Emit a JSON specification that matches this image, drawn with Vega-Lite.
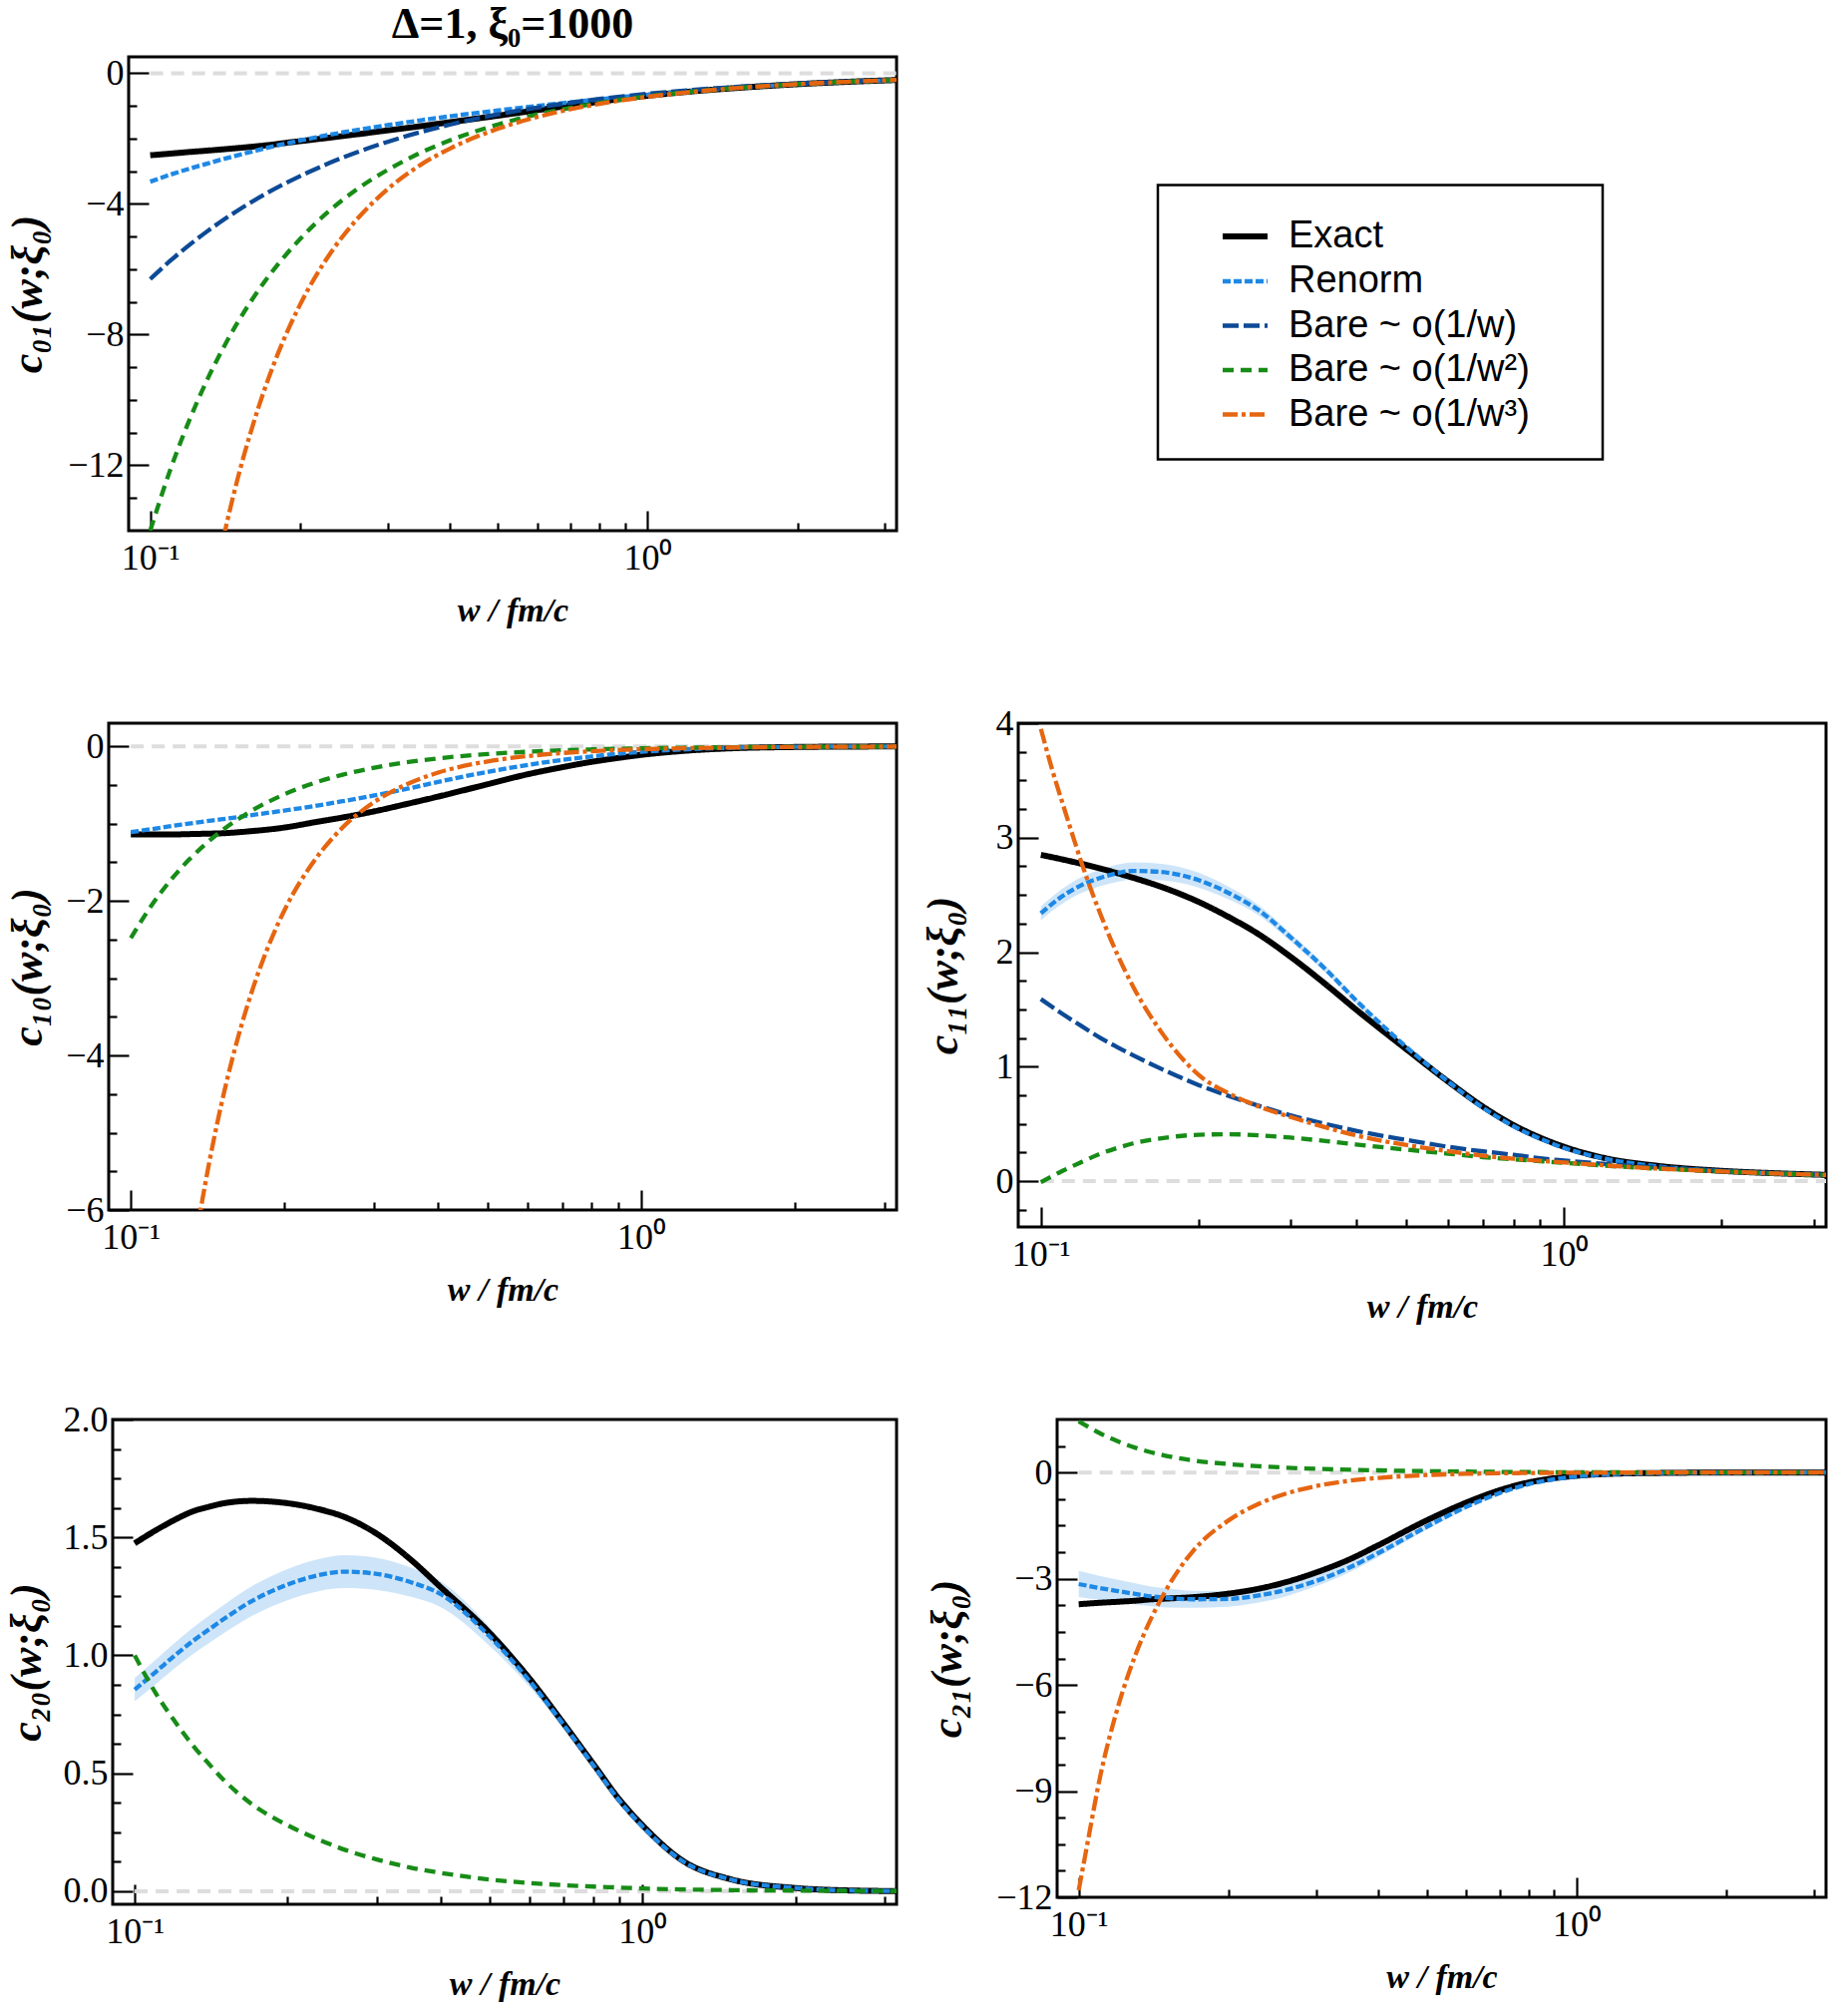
{
  "$schema": "https://vega.github.io/schema/vega-lite/v6.json",
  "background": "white",
  "padding": {"left": -16, "top": 1, "right": 5, "bottom": 5},
  "config": {
    "font": "Liberation Serif",
    "view": {"stroke": "black", "strokeWidth": 3},
    "axis": {
      "grid": false, "domain": false,
      "labelFont": "Liberation Serif", "labelFontSize": 36, "labelColor": "black",
      "tickColor": "black", "tickWidth": 2.2, "tickSize": -8,
      "titleFont": "Liberation Serif", "titleFontSize": 44, "titleFontWeight": "bold", "titleFontStyle": "italic", "titleColor": "black",
      "labelOverlap": false, "labelFlush": false, "labelBound": false
    },
    "axisX": {"labelPadding": 18, "titlePadding": 18, "titleFontSize": 34},
    "axisY": {"labelPadding": 13},
    "legend": {
      "orient": "none", "legendX": 1177, "legendY": 128.5,
      "padding": 26, "strokeColor": "black", "strokeWidth": 2.5, "fillColor": "white",
      "symbolType": "stroke", "symbolSize": 2025,
      "labelFont": "Liberation Sans", "labelFontSize": 38, "labelColor": "black",
      "labelLimit": 0, "rowPadding": 0.5, "symbolOffset": 36, "labelOffset": 18,
      "titleOrient": "right", "titleFont": "DejaVu Sans", "titleFontSize": 30, "titlePadding": 0, "titleColor": "white"
    }
  },
  "datasets": {
    "curves": [
      {"p":"c01","s":"Exact","x":0.1,"y":-2.51},{"p":"c01","s":"Exact","x":0.11,"y":-2.46},{"p":"c01","s":"Exact","x":0.12,"y":-2.41},{"p":"c01","s":"Exact","x":0.13,"y":-2.37},{"p":"c01","s":"Exact","x":0.14,"y":-2.33},{"p":"c01","s":"Exact","x":0.15,"y":-2.29},{"p":"c01","s":"Exact","x":0.17,"y":-2.21},{"p":"c01","s":"Exact","x":0.2,"y":-2.08},{"p":"c01","s":"Exact","x":0.23,"y":-1.97},{"p":"c01","s":"Exact","x":0.26,"y":-1.87},{"p":"c01","s":"Exact","x":0.3,"y":-1.75},{"p":"c01","s":"Exact","x":0.35,"y":-1.62},{"p":"c01","s":"Exact","x":0.4,"y":-1.5},{"p":"c01","s":"Exact","x":0.5,"y":-1.3},{"p":"c01","s":"Exact","x":0.6,"y":-1.13},{"p":"c01","s":"Exact","x":0.7,"y":-0.99},{"p":"c01","s":"Exact","x":0.8,"y":-0.87},{"p":"c01","s":"Exact","x":0.9,"y":-0.77},{"p":"c01","s":"Exact","x":1,"y":-0.69},{"p":"c01","s":"Exact","x":1.2,"y":-0.57},{"p":"c01","s":"Exact","x":1.5,"y":-0.455},{"p":"c01","s":"Exact","x":2,"y":-0.336},{"p":"c01","s":"Exact","x":2.5,"y":-0.266},{"p":"c01","s":"Exact","x":3.165,"y":-0.208},
      {"p":"c01","s":"Renorm","x":0.1,"y":-3.32},{"p":"c01","s":"Renorm","x":0.11,"y":-3.1},{"p":"c01","s":"Renorm","x":0.12,"y":-2.92},{"p":"c01","s":"Renorm","x":0.13,"y":-2.77},{"p":"c01","s":"Renorm","x":0.14,"y":-2.63},{"p":"c01","s":"Renorm","x":0.15,"y":-2.51},{"p":"c01","s":"Renorm","x":0.17,"y":-2.3},{"p":"c01","s":"Renorm","x":0.2,"y":-2.06},{"p":"c01","s":"Renorm","x":0.23,"y":-1.88},{"p":"c01","s":"Renorm","x":0.26,"y":-1.74},{"p":"c01","s":"Renorm","x":0.3,"y":-1.59},{"p":"c01","s":"Renorm","x":0.35,"y":-1.44},{"p":"c01","s":"Renorm","x":0.4,"y":-1.32},{"p":"c01","s":"Renorm","x":0.5,"y":-1.14},{"p":"c01","s":"Renorm","x":0.6,"y":-1},{"p":"c01","s":"Renorm","x":0.7,"y":-0.89},{"p":"c01","s":"Renorm","x":0.8,"y":-0.8},{"p":"c01","s":"Renorm","x":0.9,"y":-0.72},{"p":"c01","s":"Renorm","x":1,"y":-0.66},{"p":"c01","s":"Renorm","x":1.2,"y":-0.555},{"p":"c01","s":"Renorm","x":1.5,"y":-0.45},{"p":"c01","s":"Renorm","x":2,"y":-0.335},{"p":"c01","s":"Renorm","x":2.5,"y":-0.266},{"p":"c01","s":"Renorm","x":3.165,"y":-0.208},
      {"p":"c01","s":"Bare ~ o(1/w)","x":0.1,"y":-6.3},{"p":"c01","s":"Bare ~ o(1/w)","x":0.11,"y":-5.727},{"p":"c01","s":"Bare ~ o(1/w)","x":0.12,"y":-5.25},{"p":"c01","s":"Bare ~ o(1/w)","x":0.13,"y":-4.846},{"p":"c01","s":"Bare ~ o(1/w)","x":0.14,"y":-4.5},{"p":"c01","s":"Bare ~ o(1/w)","x":0.15,"y":-4.2},{"p":"c01","s":"Bare ~ o(1/w)","x":0.17,"y":-3.706},{"p":"c01","s":"Bare ~ o(1/w)","x":0.2,"y":-3.15},{"p":"c01","s":"Bare ~ o(1/w)","x":0.23,"y":-2.739},{"p":"c01","s":"Bare ~ o(1/w)","x":0.26,"y":-2.423},{"p":"c01","s":"Bare ~ o(1/w)","x":0.3,"y":-2.1},{"p":"c01","s":"Bare ~ o(1/w)","x":0.35,"y":-1.8},{"p":"c01","s":"Bare ~ o(1/w)","x":0.4,"y":-1.575},{"p":"c01","s":"Bare ~ o(1/w)","x":0.5,"y":-1.26},{"p":"c01","s":"Bare ~ o(1/w)","x":0.6,"y":-1.05},{"p":"c01","s":"Bare ~ o(1/w)","x":0.7,"y":-0.9},{"p":"c01","s":"Bare ~ o(1/w)","x":0.8,"y":-0.788},{"p":"c01","s":"Bare ~ o(1/w)","x":0.9,"y":-0.7},{"p":"c01","s":"Bare ~ o(1/w)","x":1,"y":-0.63},{"p":"c01","s":"Bare ~ o(1/w)","x":1.2,"y":-0.525},{"p":"c01","s":"Bare ~ o(1/w)","x":1.5,"y":-0.42},{"p":"c01","s":"Bare ~ o(1/w)","x":2,"y":-0.315},{"p":"c01","s":"Bare ~ o(1/w)","x":2.5,"y":-0.252},{"p":"c01","s":"Bare ~ o(1/w)","x":3.165,"y":-0.199},
      {"p":"c01","s":"Bare ~ o(1/w²)","x":0.1,"y":-14},{"p":"c01","s":"Bare ~ o(1/w²)","x":0.11,"y":-12.09},{"p":"c01","s":"Bare ~ o(1/w²)","x":0.12,"y":-10.6},{"p":"c01","s":"Bare ~ o(1/w²)","x":0.13,"y":-9.4},{"p":"c01","s":"Bare ~ o(1/w²)","x":0.14,"y":-8.43},{"p":"c01","s":"Bare ~ o(1/w²)","x":0.15,"y":-7.62},{"p":"c01","s":"Bare ~ o(1/w²)","x":0.17,"y":-6.37},{"p":"c01","s":"Bare ~ o(1/w²)","x":0.2,"y":-5.08},{"p":"c01","s":"Bare ~ o(1/w²)","x":0.23,"y":-4.19},{"p":"c01","s":"Bare ~ o(1/w²)","x":0.26,"y":-3.56},{"p":"c01","s":"Bare ~ o(1/w²)","x":0.3,"y":-2.96},{"p":"c01","s":"Bare ~ o(1/w²)","x":0.35,"y":-2.43},{"p":"c01","s":"Bare ~ o(1/w²)","x":0.4,"y":-2.06},{"p":"c01","s":"Bare ~ o(1/w²)","x":0.5,"y":-1.57},{"p":"c01","s":"Bare ~ o(1/w²)","x":0.6,"y":-1.26},{"p":"c01","s":"Bare ~ o(1/w²)","x":0.7,"y":-1.06},{"p":"c01","s":"Bare ~ o(1/w²)","x":0.8,"y":-0.91},{"p":"c01","s":"Bare ~ o(1/w²)","x":0.9,"y":-0.795},{"p":"c01","s":"Bare ~ o(1/w²)","x":1,"y":-0.707},{"p":"c01","s":"Bare ~ o(1/w²)","x":1.2,"y":-0.579},{"p":"c01","s":"Bare ~ o(1/w²)","x":1.5,"y":-0.454},{"p":"c01","s":"Bare ~ o(1/w²)","x":2,"y":-0.334},{"p":"c01","s":"Bare ~ o(1/w²)","x":2.5,"y":-0.264},{"p":"c01","s":"Bare ~ o(1/w²)","x":3.165,"y":-0.207},
      {"p":"c01","s":"Bare ~ o(1/w³)","x":0.12,"y":-19.92},{"p":"c01","s":"Bare ~ o(1/w³)","x":0.13,"y":-16.73},{"p":"c01","s":"Bare ~ o(1/w³)","x":0.135,"y":-15.44},{"p":"c01","s":"Bare ~ o(1/w³)","x":0.14,"y":-14.3},{"p":"c01","s":"Bare ~ o(1/w³)","x":0.145,"y":-13.29},{"p":"c01","s":"Bare ~ o(1/w³)","x":0.15,"y":-12.39},{"p":"c01","s":"Bare ~ o(1/w³)","x":0.16,"y":-10.88},{"p":"c01","s":"Bare ~ o(1/w³)","x":0.17,"y":-9.65},{"p":"c01","s":"Bare ~ o(1/w³)","x":0.18,"y":-8.64},{"p":"c01","s":"Bare ~ o(1/w³)","x":0.2,"y":-7.09},{"p":"c01","s":"Bare ~ o(1/w³)","x":0.23,"y":-5.52},{"p":"c01","s":"Bare ~ o(1/w³)","x":0.26,"y":-4.48},{"p":"c01","s":"Bare ~ o(1/w³)","x":0.3,"y":-3.55},{"p":"c01","s":"Bare ~ o(1/w³)","x":0.35,"y":-2.8},{"p":"c01","s":"Bare ~ o(1/w³)","x":0.4,"y":-2.31},{"p":"c01","s":"Bare ~ o(1/w³)","x":0.5,"y":-1.7},{"p":"c01","s":"Bare ~ o(1/w³)","x":0.6,"y":-1.34},{"p":"c01","s":"Bare ~ o(1/w³)","x":0.7,"y":-1.1},{"p":"c01","s":"Bare ~ o(1/w³)","x":0.8,"y":-0.94},{"p":"c01","s":"Bare ~ o(1/w³)","x":0.9,"y":-0.817},{"p":"c01","s":"Bare ~ o(1/w³)","x":1,"y":-0.723},{"p":"c01","s":"Bare ~ o(1/w³)","x":1.2,"y":-0.588},{"p":"c01","s":"Bare ~ o(1/w³)","x":1.5,"y":-0.459},{"p":"c01","s":"Bare ~ o(1/w³)","x":2,"y":-0.336},{"p":"c01","s":"Bare ~ o(1/w³)","x":2.5,"y":-0.265},{"p":"c01","s":"Bare ~ o(1/w³)","x":3.165,"y":-0.2075},

      {"p":"c10","s":"Exact","x":0.1,"y":-1.14},{"p":"c10","s":"Exact","x":0.11,"y":-1.14},{"p":"c10","s":"Exact","x":0.12,"y":-1.14},{"p":"c10","s":"Exact","x":0.13,"y":-1.135},{"p":"c10","s":"Exact","x":0.14,"y":-1.13},{"p":"c10","s":"Exact","x":0.15,"y":-1.125},{"p":"c10","s":"Exact","x":0.17,"y":-1.1},{"p":"c10","s":"Exact","x":0.2,"y":-1.05},{"p":"c10","s":"Exact","x":0.23,"y":-0.98},{"p":"c10","s":"Exact","x":0.26,"y":-0.92},{"p":"c10","s":"Exact","x":0.3,"y":-0.84},{"p":"c10","s":"Exact","x":0.35,"y":-0.74},{"p":"c10","s":"Exact","x":0.4,"y":-0.65},{"p":"c10","s":"Exact","x":0.5,"y":-0.49},{"p":"c10","s":"Exact","x":0.6,"y":-0.36},{"p":"c10","s":"Exact","x":0.7,"y":-0.27},{"p":"c10","s":"Exact","x":0.8,"y":-0.2},{"p":"c10","s":"Exact","x":0.9,"y":-0.15},{"p":"c10","s":"Exact","x":1,"y":-0.11},{"p":"c10","s":"Exact","x":1.2,"y":-0.06},{"p":"c10","s":"Exact","x":1.5,"y":-0.025},{"p":"c10","s":"Exact","x":2,"y":-0.008},{"p":"c10","s":"Exact","x":2.5,"y":-0.003},{"p":"c10","s":"Exact","x":3.165,"y":-0.001},
      {"p":"c10","s":"Renorm","x":0.1,"y":-1.11},{"p":"c10","s":"Renorm","x":0.11,"y":-1.07},{"p":"c10","s":"Renorm","x":0.12,"y":-1.03},{"p":"c10","s":"Renorm","x":0.13,"y":-1},{"p":"c10","s":"Renorm","x":0.14,"y":-0.97},{"p":"c10","s":"Renorm","x":0.15,"y":-0.945},{"p":"c10","s":"Renorm","x":0.17,"y":-0.895},{"p":"c10","s":"Renorm","x":0.2,"y":-0.83},{"p":"c10","s":"Renorm","x":0.23,"y":-0.77},{"p":"c10","s":"Renorm","x":0.26,"y":-0.71},{"p":"c10","s":"Renorm","x":0.3,"y":-0.635},{"p":"c10","s":"Renorm","x":0.35,"y":-0.545},{"p":"c10","s":"Renorm","x":0.4,"y":-0.46},{"p":"c10","s":"Renorm","x":0.5,"y":-0.33},{"p":"c10","s":"Renorm","x":0.6,"y":-0.24},{"p":"c10","s":"Renorm","x":0.7,"y":-0.175},{"p":"c10","s":"Renorm","x":0.8,"y":-0.13},{"p":"c10","s":"Renorm","x":0.9,"y":-0.095},{"p":"c10","s":"Renorm","x":1,"y":-0.07},{"p":"c10","s":"Renorm","x":1.2,"y":-0.04},{"p":"c10","s":"Renorm","x":1.5,"y":-0.017},{"p":"c10","s":"Renorm","x":2,"y":-0.006},{"p":"c10","s":"Renorm","x":2.5,"y":-0.002},{"p":"c10","s":"Renorm","x":3.165,"y":-0.001},
      {"p":"c10","s":"Bare ~ o(1/w²)","x":0.1,"y":-2.48},{"p":"c10","s":"Bare ~ o(1/w²)","x":0.11,"y":-2.05},{"p":"c10","s":"Bare ~ o(1/w²)","x":0.12,"y":-1.722},{"p":"c10","s":"Bare ~ o(1/w²)","x":0.13,"y":-1.467},{"p":"c10","s":"Bare ~ o(1/w²)","x":0.14,"y":-1.265},{"p":"c10","s":"Bare ~ o(1/w²)","x":0.15,"y":-1.102},{"p":"c10","s":"Bare ~ o(1/w²)","x":0.17,"y":-0.858},{"p":"c10","s":"Bare ~ o(1/w²)","x":0.2,"y":-0.62},{"p":"c10","s":"Bare ~ o(1/w²)","x":0.23,"y":-0.469},{"p":"c10","s":"Bare ~ o(1/w²)","x":0.26,"y":-0.367},{"p":"c10","s":"Bare ~ o(1/w²)","x":0.3,"y":-0.276},{"p":"c10","s":"Bare ~ o(1/w²)","x":0.35,"y":-0.202},{"p":"c10","s":"Bare ~ o(1/w²)","x":0.4,"y":-0.155},{"p":"c10","s":"Bare ~ o(1/w²)","x":0.5,"y":-0.099},{"p":"c10","s":"Bare ~ o(1/w²)","x":0.6,"y":-0.069},{"p":"c10","s":"Bare ~ o(1/w²)","x":0.7,"y":-0.0506},{"p":"c10","s":"Bare ~ o(1/w²)","x":0.8,"y":-0.0388},{"p":"c10","s":"Bare ~ o(1/w²)","x":0.9,"y":-0.0306},{"p":"c10","s":"Bare ~ o(1/w²)","x":1,"y":-0.0248},{"p":"c10","s":"Bare ~ o(1/w²)","x":1.2,"y":-0.0172},{"p":"c10","s":"Bare ~ o(1/w²)","x":1.5,"y":-0.011},{"p":"c10","s":"Bare ~ o(1/w²)","x":2,"y":-0.0062},{"p":"c10","s":"Bare ~ o(1/w²)","x":2.5,"y":-0.004},{"p":"c10","s":"Bare ~ o(1/w²)","x":3.165,"y":-0.0025},
      {"p":"c10","s":"Bare ~ o(1/w³)","x":0.12,"y":-8.68},{"p":"c10","s":"Bare ~ o(1/w³)","x":0.13,"y":-6.94},{"p":"c10","s":"Bare ~ o(1/w³)","x":0.135,"y":-6.25},{"p":"c10","s":"Bare ~ o(1/w³)","x":0.14,"y":-5.65},{"p":"c10","s":"Bare ~ o(1/w³)","x":0.15,"y":-4.67},{"p":"c10","s":"Bare ~ o(1/w³)","x":0.16,"y":-3.91},{"p":"c10","s":"Bare ~ o(1/w³)","x":0.17,"y":-3.31},{"p":"c10","s":"Bare ~ o(1/w³)","x":0.18,"y":-2.83},{"p":"c10","s":"Bare ~ o(1/w³)","x":0.2,"y":-2.12},{"p":"c10","s":"Bare ~ o(1/w³)","x":0.23,"y":-1.46},{"p":"c10","s":"Bare ~ o(1/w³)","x":0.26,"y":-1.05},{"p":"c10","s":"Bare ~ o(1/w³)","x":0.3,"y":-0.72},{"p":"c10","s":"Bare ~ o(1/w³)","x":0.35,"y":-0.48},{"p":"c10","s":"Bare ~ o(1/w³)","x":0.4,"y":-0.34},{"p":"c10","s":"Bare ~ o(1/w³)","x":0.5,"y":-0.195},{"p":"c10","s":"Bare ~ o(1/w³)","x":0.6,"y":-0.125},{"p":"c10","s":"Bare ~ o(1/w³)","x":0.7,"y":-0.086},{"p":"c10","s":"Bare ~ o(1/w³)","x":0.8,"y":-0.062},{"p":"c10","s":"Bare ~ o(1/w³)","x":0.9,"y":-0.047},{"p":"c10","s":"Bare ~ o(1/w³)","x":1,"y":-0.037},{"p":"c10","s":"Bare ~ o(1/w³)","x":1.2,"y":-0.024},{"p":"c10","s":"Bare ~ o(1/w³)","x":1.5,"y":-0.0146},{"p":"c10","s":"Bare ~ o(1/w³)","x":2,"y":-0.0077},{"p":"c10","s":"Bare ~ o(1/w³)","x":2.5,"y":-0.0048},{"p":"c10","s":"Bare ~ o(1/w³)","x":3.165,"y":-0.0029},

      {"p":"c11","s":"Exact","x":0.1,"y":2.85},{"p":"c11","s":"Exact","x":0.11,"y":2.81},{"p":"c11","s":"Exact","x":0.12,"y":2.77},{"p":"c11","s":"Exact","x":0.13,"y":2.73},{"p":"c11","s":"Exact","x":0.14,"y":2.69},{"p":"c11","s":"Exact","x":0.15,"y":2.65},{"p":"c11","s":"Exact","x":0.17,"y":2.57},{"p":"c11","s":"Exact","x":0.2,"y":2.44},{"p":"c11","s":"Exact","x":0.23,"y":2.3},{"p":"c11","s":"Exact","x":0.26,"y":2.16},{"p":"c11","s":"Exact","x":0.3,"y":1.96},{"p":"c11","s":"Exact","x":0.35,"y":1.72},{"p":"c11","s":"Exact","x":0.4,"y":1.5},{"p":"c11","s":"Exact","x":0.5,"y":1.15},{"p":"c11","s":"Exact","x":0.6,"y":0.87},{"p":"c11","s":"Exact","x":0.7,"y":0.65},{"p":"c11","s":"Exact","x":0.8,"y":0.49},{"p":"c11","s":"Exact","x":0.9,"y":0.38},{"p":"c11","s":"Exact","x":1,"y":0.3},{"p":"c11","s":"Exact","x":1.2,"y":0.2},{"p":"c11","s":"Exact","x":1.5,"y":0.135},{"p":"c11","s":"Exact","x":2,"y":0.09},{"p":"c11","s":"Exact","x":2.5,"y":0.07},{"p":"c11","s":"Exact","x":3.165,"y":0.055},
      {"p":"c11","s":"Renorm","x":0.1,"y":2.34},{"p":"c11","s":"Renorm","x":0.11,"y":2.49},{"p":"c11","s":"Renorm","x":0.12,"y":2.59},{"p":"c11","s":"Renorm","x":0.13,"y":2.65},{"p":"c11","s":"Renorm","x":0.14,"y":2.69},{"p":"c11","s":"Renorm","x":0.15,"y":2.71},{"p":"c11","s":"Renorm","x":0.17,"y":2.7},{"p":"c11","s":"Renorm","x":0.2,"y":2.63},{"p":"c11","s":"Renorm","x":0.23,"y":2.51},{"p":"c11","s":"Renorm","x":0.26,"y":2.37},{"p":"c11","s":"Renorm","x":0.3,"y":2.13},{"p":"c11","s":"Renorm","x":0.35,"y":1.85},{"p":"c11","s":"Renorm","x":0.4,"y":1.58},{"p":"c11","s":"Renorm","x":0.5,"y":1.17},{"p":"c11","s":"Renorm","x":0.6,"y":0.87},{"p":"c11","s":"Renorm","x":0.7,"y":0.64},{"p":"c11","s":"Renorm","x":0.8,"y":0.48},{"p":"c11","s":"Renorm","x":0.9,"y":0.37},{"p":"c11","s":"Renorm","x":1,"y":0.29},{"p":"c11","s":"Renorm","x":1.2,"y":0.195},{"p":"c11","s":"Renorm","x":1.5,"y":0.13},{"p":"c11","s":"Renorm","x":2,"y":0.088},{"p":"c11","s":"Renorm","x":2.5,"y":0.068},{"p":"c11","s":"Renorm","x":3.165,"y":0.053},
      {"p":"c11","s":"Bare ~ o(1/w)","x":0.1,"y":1.59},{"p":"c11","s":"Bare ~ o(1/w)","x":0.11,"y":1.46},{"p":"c11","s":"Bare ~ o(1/w)","x":0.12,"y":1.35},{"p":"c11","s":"Bare ~ o(1/w)","x":0.13,"y":1.25},{"p":"c11","s":"Bare ~ o(1/w)","x":0.14,"y":1.17},{"p":"c11","s":"Bare ~ o(1/w)","x":0.15,"y":1.1},{"p":"c11","s":"Bare ~ o(1/w)","x":0.17,"y":0.98},{"p":"c11","s":"Bare ~ o(1/w)","x":0.2,"y":0.84},{"p":"c11","s":"Bare ~ o(1/w)","x":0.23,"y":0.74},{"p":"c11","s":"Bare ~ o(1/w)","x":0.26,"y":0.66},{"p":"c11","s":"Bare ~ o(1/w)","x":0.3,"y":0.575},{"p":"c11","s":"Bare ~ o(1/w)","x":0.35,"y":0.5},{"p":"c11","s":"Bare ~ o(1/w)","x":0.4,"y":0.44},{"p":"c11","s":"Bare ~ o(1/w)","x":0.5,"y":0.36},{"p":"c11","s":"Bare ~ o(1/w)","x":0.6,"y":0.3},{"p":"c11","s":"Bare ~ o(1/w)","x":0.7,"y":0.26},{"p":"c11","s":"Bare ~ o(1/w)","x":0.8,"y":0.23},{"p":"c11","s":"Bare ~ o(1/w)","x":0.9,"y":0.2},{"p":"c11","s":"Bare ~ o(1/w)","x":1,"y":0.18},{"p":"c11","s":"Bare ~ o(1/w)","x":1.2,"y":0.15},{"p":"c11","s":"Bare ~ o(1/w)","x":1.5,"y":0.12},{"p":"c11","s":"Bare ~ o(1/w)","x":2,"y":0.09},{"p":"c11","s":"Bare ~ o(1/w)","x":2.5,"y":0.072},{"p":"c11","s":"Bare ~ o(1/w)","x":3.165,"y":0.057},
      {"p":"c11","s":"Bare ~ o(1/w²)","x":0.1,"y":-0.01},{"p":"c11","s":"Bare ~ o(1/w²)","x":0.11,"y":0.09},{"p":"c11","s":"Bare ~ o(1/w²)","x":0.12,"y":0.17},{"p":"c11","s":"Bare ~ o(1/w²)","x":0.13,"y":0.24},{"p":"c11","s":"Bare ~ o(1/w²)","x":0.14,"y":0.29},{"p":"c11","s":"Bare ~ o(1/w²)","x":0.15,"y":0.33},{"p":"c11","s":"Bare ~ o(1/w²)","x":0.17,"y":0.375},{"p":"c11","s":"Bare ~ o(1/w²)","x":0.2,"y":0.405},{"p":"c11","s":"Bare ~ o(1/w²)","x":0.23,"y":0.41},{"p":"c11","s":"Bare ~ o(1/w²)","x":0.26,"y":0.4},{"p":"c11","s":"Bare ~ o(1/w²)","x":0.3,"y":0.38},{"p":"c11","s":"Bare ~ o(1/w²)","x":0.35,"y":0.35},{"p":"c11","s":"Bare ~ o(1/w²)","x":0.4,"y":0.32},{"p":"c11","s":"Bare ~ o(1/w²)","x":0.5,"y":0.275},{"p":"c11","s":"Bare ~ o(1/w²)","x":0.6,"y":0.24},{"p":"c11","s":"Bare ~ o(1/w²)","x":0.7,"y":0.21},{"p":"c11","s":"Bare ~ o(1/w²)","x":0.8,"y":0.19},{"p":"c11","s":"Bare ~ o(1/w²)","x":0.9,"y":0.175},{"p":"c11","s":"Bare ~ o(1/w²)","x":1,"y":0.16},{"p":"c11","s":"Bare ~ o(1/w²)","x":1.2,"y":0.135},{"p":"c11","s":"Bare ~ o(1/w²)","x":1.5,"y":0.11},{"p":"c11","s":"Bare ~ o(1/w²)","x":2,"y":0.085},{"p":"c11","s":"Bare ~ o(1/w²)","x":2.5,"y":0.068},{"p":"c11","s":"Bare ~ o(1/w²)","x":3.165,"y":0.054},
      {"p":"c11","s":"Bare ~ o(1/w³)","x":0.1,"y":3.95},{"p":"c11","s":"Bare ~ o(1/w³)","x":0.105,"y":3.6},{"p":"c11","s":"Bare ~ o(1/w³)","x":0.11,"y":3.3},{"p":"c11","s":"Bare ~ o(1/w³)","x":0.115,"y":3.02},{"p":"c11","s":"Bare ~ o(1/w³)","x":0.12,"y":2.76},{"p":"c11","s":"Bare ~ o(1/w³)","x":0.13,"y":2.33},{"p":"c11","s":"Bare ~ o(1/w³)","x":0.14,"y":1.98},{"p":"c11","s":"Bare ~ o(1/w³)","x":0.15,"y":1.7},{"p":"c11","s":"Bare ~ o(1/w³)","x":0.17,"y":1.3},{"p":"c11","s":"Bare ~ o(1/w³)","x":0.2,"y":0.93},{"p":"c11","s":"Bare ~ o(1/w³)","x":0.23,"y":0.76},{"p":"c11","s":"Bare ~ o(1/w³)","x":0.26,"y":0.655},{"p":"c11","s":"Bare ~ o(1/w³)","x":0.3,"y":0.56},{"p":"c11","s":"Bare ~ o(1/w³)","x":0.35,"y":0.47},{"p":"c11","s":"Bare ~ o(1/w³)","x":0.4,"y":0.4},{"p":"c11","s":"Bare ~ o(1/w³)","x":0.5,"y":0.315},{"p":"c11","s":"Bare ~ o(1/w³)","x":0.6,"y":0.262},{"p":"c11","s":"Bare ~ o(1/w³)","x":0.7,"y":0.222},{"p":"c11","s":"Bare ~ o(1/w³)","x":0.8,"y":0.196},{"p":"c11","s":"Bare ~ o(1/w³)","x":0.9,"y":0.178},{"p":"c11","s":"Bare ~ o(1/w³)","x":1,"y":0.163},{"p":"c11","s":"Bare ~ o(1/w³)","x":1.2,"y":0.137},{"p":"c11","s":"Bare ~ o(1/w³)","x":1.5,"y":0.11},{"p":"c11","s":"Bare ~ o(1/w³)","x":2,"y":0.085},{"p":"c11","s":"Bare ~ o(1/w³)","x":2.5,"y":0.068},{"p":"c11","s":"Bare ~ o(1/w³)","x":3.165,"y":0.054},

      {"p":"c20","s":"Exact","x":0.1,"y":1.475},{"p":"c20","s":"Exact","x":0.11,"y":1.53},{"p":"c20","s":"Exact","x":0.12,"y":1.575},{"p":"c20","s":"Exact","x":0.13,"y":1.61},{"p":"c20","s":"Exact","x":0.14,"y":1.63},{"p":"c20","s":"Exact","x":0.15,"y":1.645},{"p":"c20","s":"Exact","x":0.17,"y":1.655},{"p":"c20","s":"Exact","x":0.2,"y":1.645},{"p":"c20","s":"Exact","x":0.23,"y":1.62},{"p":"c20","s":"Exact","x":0.26,"y":1.585},{"p":"c20","s":"Exact","x":0.3,"y":1.515},{"p":"c20","s":"Exact","x":0.35,"y":1.405},{"p":"c20","s":"Exact","x":0.4,"y":1.29},{"p":"c20","s":"Exact","x":0.5,"y":1.095},{"p":"c20","s":"Exact","x":0.6,"y":0.9},{"p":"c20","s":"Exact","x":0.7,"y":0.71},{"p":"c20","s":"Exact","x":0.8,"y":0.54},{"p":"c20","s":"Exact","x":0.9,"y":0.39},{"p":"c20","s":"Exact","x":1,"y":0.28},{"p":"c20","s":"Exact","x":1.2,"y":0.13},{"p":"c20","s":"Exact","x":1.5,"y":0.05},{"p":"c20","s":"Exact","x":2,"y":0.014},{"p":"c20","s":"Exact","x":2.5,"y":0.004},{"p":"c20","s":"Exact","x":3.165,"y":0.001},
      {"p":"c20","s":"Renorm","x":0.1,"y":0.855},{"p":"c20","s":"Renorm","x":0.11,"y":0.93},{"p":"c20","s":"Renorm","x":0.12,"y":1},{"p":"c20","s":"Renorm","x":0.13,"y":1.06},{"p":"c20","s":"Renorm","x":0.14,"y":1.11},{"p":"c20","s":"Renorm","x":0.15,"y":1.155},{"p":"c20","s":"Renorm","x":0.17,"y":1.23},{"p":"c20","s":"Renorm","x":0.2,"y":1.3},{"p":"c20","s":"Renorm","x":0.23,"y":1.34},{"p":"c20","s":"Renorm","x":0.26,"y":1.355},{"p":"c20","s":"Renorm","x":0.3,"y":1.345},{"p":"c20","s":"Renorm","x":0.35,"y":1.31},{"p":"c20","s":"Renorm","x":0.4,"y":1.26},{"p":"c20","s":"Renorm","x":0.5,"y":1.08},{"p":"c20","s":"Renorm","x":0.6,"y":0.89},{"p":"c20","s":"Renorm","x":0.7,"y":0.705},{"p":"c20","s":"Renorm","x":0.8,"y":0.535},{"p":"c20","s":"Renorm","x":0.9,"y":0.385},{"p":"c20","s":"Renorm","x":1,"y":0.275},{"p":"c20","s":"Renorm","x":1.2,"y":0.128},{"p":"c20","s":"Renorm","x":1.5,"y":0.049},{"p":"c20","s":"Renorm","x":2,"y":0.014},{"p":"c20","s":"Renorm","x":2.5,"y":0.004},{"p":"c20","s":"Renorm","x":3.165,"y":0.001},
      {"p":"c20","s":"Bare ~ o(1/w²)","x":0.1,"y":1},{"p":"c20","s":"Bare ~ o(1/w²)","x":0.11,"y":0.84},{"p":"c20","s":"Bare ~ o(1/w²)","x":0.12,"y":0.72},{"p":"c20","s":"Bare ~ o(1/w²)","x":0.13,"y":0.62},{"p":"c20","s":"Bare ~ o(1/w²)","x":0.14,"y":0.54},{"p":"c20","s":"Bare ~ o(1/w²)","x":0.15,"y":0.47},{"p":"c20","s":"Bare ~ o(1/w²)","x":0.17,"y":0.37},{"p":"c20","s":"Bare ~ o(1/w²)","x":0.2,"y":0.28},{"p":"c20","s":"Bare ~ o(1/w²)","x":0.23,"y":0.22},{"p":"c20","s":"Bare ~ o(1/w²)","x":0.26,"y":0.175},{"p":"c20","s":"Bare ~ o(1/w²)","x":0.3,"y":0.135},{"p":"c20","s":"Bare ~ o(1/w²)","x":0.35,"y":0.1},{"p":"c20","s":"Bare ~ o(1/w²)","x":0.4,"y":0.078},{"p":"c20","s":"Bare ~ o(1/w²)","x":0.5,"y":0.05},{"p":"c20","s":"Bare ~ o(1/w²)","x":0.6,"y":0.035},{"p":"c20","s":"Bare ~ o(1/w²)","x":0.7,"y":0.026},{"p":"c20","s":"Bare ~ o(1/w²)","x":0.8,"y":0.02},{"p":"c20","s":"Bare ~ o(1/w²)","x":0.9,"y":0.016},{"p":"c20","s":"Bare ~ o(1/w²)","x":1,"y":0.012},{"p":"c20","s":"Bare ~ o(1/w²)","x":1.2,"y":0.008},{"p":"c20","s":"Bare ~ o(1/w²)","x":1.5,"y":0.005},{"p":"c20","s":"Bare ~ o(1/w²)","x":2,"y":0.003},{"p":"c20","s":"Bare ~ o(1/w²)","x":2.5,"y":0.002},{"p":"c20","s":"Bare ~ o(1/w²)","x":3.165,"y":0.001},

      {"p":"c21","s":"Exact","x":0.1,"y":-3.72},{"p":"c21","s":"Exact","x":0.11,"y":-3.68},{"p":"c21","s":"Exact","x":0.12,"y":-3.65},{"p":"c21","s":"Exact","x":0.13,"y":-3.62},{"p":"c21","s":"Exact","x":0.14,"y":-3.58},{"p":"c21","s":"Exact","x":0.15,"y":-3.56},{"p":"c21","s":"Exact","x":0.17,"y":-3.52},{"p":"c21","s":"Exact","x":0.2,"y":-3.42},{"p":"c21","s":"Exact","x":0.23,"y":-3.28},{"p":"c21","s":"Exact","x":0.26,"y":-3.1},{"p":"c21","s":"Exact","x":0.3,"y":-2.82},{"p":"c21","s":"Exact","x":0.35,"y":-2.45},{"p":"c21","s":"Exact","x":0.4,"y":-2.05},{"p":"c21","s":"Exact","x":0.5,"y":-1.35},{"p":"c21","s":"Exact","x":0.6,"y":-0.85},{"p":"c21","s":"Exact","x":0.7,"y":-0.5},{"p":"c21","s":"Exact","x":0.8,"y":-0.28},{"p":"c21","s":"Exact","x":0.9,"y":-0.16},{"p":"c21","s":"Exact","x":1,"y":-0.09},{"p":"c21","s":"Exact","x":1.2,"y":-0.03},{"p":"c21","s":"Exact","x":1.5,"y":-0.01},{"p":"c21","s":"Exact","x":2,"y":0},{"p":"c21","s":"Exact","x":2.5,"y":0},{"p":"c21","s":"Exact","x":3.165,"y":0},
      {"p":"c21","s":"Renorm","x":0.1,"y":-3.15},{"p":"c21","s":"Renorm","x":0.11,"y":-3.26},{"p":"c21","s":"Renorm","x":0.12,"y":-3.35},{"p":"c21","s":"Renorm","x":0.13,"y":-3.43},{"p":"c21","s":"Renorm","x":0.14,"y":-3.5},{"p":"c21","s":"Renorm","x":0.15,"y":-3.54},{"p":"c21","s":"Renorm","x":0.17,"y":-3.58},{"p":"c21","s":"Renorm","x":0.2,"y":-3.57},{"p":"c21","s":"Renorm","x":0.23,"y":-3.47},{"p":"c21","s":"Renorm","x":0.26,"y":-3.32},{"p":"c21","s":"Renorm","x":0.3,"y":-3.06},{"p":"c21","s":"Renorm","x":0.35,"y":-2.68},{"p":"c21","s":"Renorm","x":0.4,"y":-2.27},{"p":"c21","s":"Renorm","x":0.5,"y":-1.53},{"p":"c21","s":"Renorm","x":0.6,"y":-0.97},{"p":"c21","s":"Renorm","x":0.7,"y":-0.58},{"p":"c21","s":"Renorm","x":0.8,"y":-0.33},{"p":"c21","s":"Renorm","x":0.9,"y":-0.19},{"p":"c21","s":"Renorm","x":1,"y":-0.11},{"p":"c21","s":"Renorm","x":1.2,"y":-0.04},{"p":"c21","s":"Renorm","x":1.5,"y":-0.012},{"p":"c21","s":"Renorm","x":2,"y":-0.002},{"p":"c21","s":"Renorm","x":2.5,"y":0},{"p":"c21","s":"Renorm","x":3.165,"y":0},
      {"p":"c21","s":"Bare ~ o(1/w²)","x":0.1,"y":1.45},{"p":"c21","s":"Bare ~ o(1/w²)","x":0.11,"y":1.12},{"p":"c21","s":"Bare ~ o(1/w²)","x":0.12,"y":0.88},{"p":"c21","s":"Bare ~ o(1/w²)","x":0.13,"y":0.7},{"p":"c21","s":"Bare ~ o(1/w²)","x":0.14,"y":0.57},{"p":"c21","s":"Bare ~ o(1/w²)","x":0.15,"y":0.47},{"p":"c21","s":"Bare ~ o(1/w²)","x":0.17,"y":0.34},{"p":"c21","s":"Bare ~ o(1/w²)","x":0.2,"y":0.24},{"p":"c21","s":"Bare ~ o(1/w²)","x":0.23,"y":0.18},{"p":"c21","s":"Bare ~ o(1/w²)","x":0.26,"y":0.14},{"p":"c21","s":"Bare ~ o(1/w²)","x":0.3,"y":0.105},{"p":"c21","s":"Bare ~ o(1/w²)","x":0.35,"y":0.08},{"p":"c21","s":"Bare ~ o(1/w²)","x":0.4,"y":0.062},{"p":"c21","s":"Bare ~ o(1/w²)","x":0.5,"y":0.04},{"p":"c21","s":"Bare ~ o(1/w²)","x":0.6,"y":0.028},{"p":"c21","s":"Bare ~ o(1/w²)","x":0.7,"y":0.02},{"p":"c21","s":"Bare ~ o(1/w²)","x":0.8,"y":0.015},{"p":"c21","s":"Bare ~ o(1/w²)","x":0.9,"y":0.012},{"p":"c21","s":"Bare ~ o(1/w²)","x":1,"y":0.01},{"p":"c21","s":"Bare ~ o(1/w²)","x":1.2,"y":0.006},{"p":"c21","s":"Bare ~ o(1/w²)","x":1.5,"y":0.004},{"p":"c21","s":"Bare ~ o(1/w²)","x":2,"y":0.002},{"p":"c21","s":"Bare ~ o(1/w²)","x":2.5,"y":0.001},{"p":"c21","s":"Bare ~ o(1/w²)","x":3.165,"y":0},
      {"p":"c21","s":"Bare ~ o(1/w³)","x":0.1,"y":-11.8},{"p":"c21","s":"Bare ~ o(1/w³)","x":0.105,"y":-10.2},{"p":"c21","s":"Bare ~ o(1/w³)","x":0.11,"y":-8.7},{"p":"c21","s":"Bare ~ o(1/w³)","x":0.12,"y":-6.6},{"p":"c21","s":"Bare ~ o(1/w³)","x":0.13,"y":-5.15},{"p":"c21","s":"Bare ~ o(1/w³)","x":0.14,"y":-4.1},{"p":"c21","s":"Bare ~ o(1/w³)","x":0.15,"y":-3.3},{"p":"c21","s":"Bare ~ o(1/w³)","x":0.17,"y":-2.2},{"p":"c21","s":"Bare ~ o(1/w³)","x":0.2,"y":-1.35},{"p":"c21","s":"Bare ~ o(1/w³)","x":0.23,"y":-0.88},{"p":"c21","s":"Bare ~ o(1/w³)","x":0.26,"y":-0.6},{"p":"c21","s":"Bare ~ o(1/w³)","x":0.3,"y":-0.38},{"p":"c21","s":"Bare ~ o(1/w³)","x":0.35,"y":-0.23},{"p":"c21","s":"Bare ~ o(1/w³)","x":0.4,"y":-0.15},{"p":"c21","s":"Bare ~ o(1/w³)","x":0.5,"y":-0.07},{"p":"c21","s":"Bare ~ o(1/w³)","x":0.6,"y":-0.035},{"p":"c21","s":"Bare ~ o(1/w³)","x":0.7,"y":-0.02},{"p":"c21","s":"Bare ~ o(1/w³)","x":0.8,"y":-0.012},{"p":"c21","s":"Bare ~ o(1/w³)","x":1,"y":-0.005},{"p":"c21","s":"Bare ~ o(1/w³)","x":1.5,"y":0},{"p":"c21","s":"Bare ~ o(1/w³)","x":2,"y":0},{"p":"c21","s":"Bare ~ o(1/w³)","x":3.165,"y":0}
    ],
    "bands": [
      {"p":"c11","x":0.1,"lo":2.28,"hi":2.4},{"p":"c11","x":0.11,"lo":2.425,"hi":2.555},{"p":"c11","x":0.12,"lo":2.52,"hi":2.66},{"p":"c11","x":0.13,"lo":2.578,"hi":2.722},{"p":"c11","x":0.14,"lo":2.615,"hi":2.765},{"p":"c11","x":0.15,"lo":2.635,"hi":2.785},{"p":"c11","x":0.17,"lo":2.628,"hi":2.772},{"p":"c11","x":0.2,"lo":2.565,"hi":2.695},{"p":"c11","x":0.23,"lo":2.455,"hi":2.565},{"p":"c11","x":0.26,"lo":2.325,"hi":2.415},{"p":"c11","x":0.3,"lo":2.095,"hi":2.165},{"p":"c11","x":0.35,"lo":1.82,"hi":1.88},{"p":"c11","x":0.4,"lo":1.555,"hi":1.605},{"p":"c11","x":0.5,"lo":1.155,"hi":1.185},{"p":"c11","x":0.6,"lo":0.86,"hi":0.88},{"p":"c11","x":0.7,"lo":0.633,"hi":0.647},{"p":"c11","x":0.8,"lo":0.475,"hi":0.485},
      {"p":"c20","x":0.1,"lo":0.805,"hi":0.905},{"p":"c20","x":0.11,"lo":0.878,"hi":0.982},{"p":"c20","x":0.12,"lo":0.946,"hi":1.054},{"p":"c20","x":0.13,"lo":1.004,"hi":1.116},{"p":"c20","x":0.14,"lo":1.052,"hi":1.168},{"p":"c20","x":0.15,"lo":1.095,"hi":1.215},{"p":"c20","x":0.17,"lo":1.167,"hi":1.293},{"p":"c20","x":0.2,"lo":1.234,"hi":1.366},{"p":"c20","x":0.23,"lo":1.272,"hi":1.408},{"p":"c20","x":0.26,"lo":1.285,"hi":1.425},{"p":"c20","x":0.3,"lo":1.277,"hi":1.413},{"p":"c20","x":0.35,"lo":1.248,"hi":1.372},{"p":"c20","x":0.4,"lo":1.205,"hi":1.315},{"p":"c20","x":0.5,"lo":1.04,"hi":1.12},{"p":"c20","x":0.6,"lo":0.865,"hi":0.915},{"p":"c20","x":0.7,"lo":0.69,"hi":0.72},{"p":"c20","x":0.8,"lo":0.525,"hi":0.545},{"p":"c20","x":0.9,"lo":0.378,"hi":0.392},{"p":"c20","x":1,"lo":0.27,"hi":0.28},
      {"p":"c21","x":0.1,"lo":-3.52,"hi":-2.78},{"p":"c21","x":0.11,"lo":-3.6,"hi":-2.92},{"p":"c21","x":0.12,"lo":-3.67,"hi":-3.03},{"p":"c21","x":0.13,"lo":-3.73,"hi":-3.13},{"p":"c21","x":0.14,"lo":-3.78,"hi":-3.22},{"p":"c21","x":0.15,"lo":-3.81,"hi":-3.27},{"p":"c21","x":0.17,"lo":-3.82,"hi":-3.34},{"p":"c21","x":0.2,"lo":-3.79,"hi":-3.35},{"p":"c21","x":0.23,"lo":-3.67,"hi":-3.27},{"p":"c21","x":0.26,"lo":-3.5,"hi":-3.14},{"p":"c21","x":0.3,"lo":-3.21,"hi":-2.91},{"p":"c21","x":0.35,"lo":-2.81,"hi":-2.55},{"p":"c21","x":0.4,"lo":-2.38,"hi":-2.16},{"p":"c21","x":0.5,"lo":-1.61,"hi":-1.45},{"p":"c21","x":0.6,"lo":-1.03,"hi":-0.91},{"p":"c21","x":0.7,"lo":-0.625,"hi":-0.535},{"p":"c21","x":0.8,"lo":-0.36,"hi":-0.3},{"p":"c21","x":0.9,"lo":-0.215,"hi":-0.165},{"p":"c21","x":1,"lo":-0.13,"hi":-0.09},{"p":"c21","x":1.2,"lo":-0.05,"hi":-0.03},{"p":"c21","x":1.5,"lo":-0.017,"hi":-0.007}
    ]
  },
  "columns": 3,
  "spacing": {"row": 74, "column": 19},
  "align": {"row": "each", "column": "none"},
  "concat": [
    {"width": 1, "height": 1, "view": {"stroke": null}, "data": {"values": []}, "mark": "point"},
    {
      "width": 770, "height": 475,
      "title": {"text": "Δ=1, ξ₀=1000", "font": "Liberation Serif", "fontSize": 44, "fontWeight": "bold", "color": "black", "offset": 8, "anchor": "middle"},
      "layer": [
        {
          "data": {"values": [{}]},
          "mark": {"type": "rule", "color": "#dddddd", "strokeWidth": 4, "strokeDash": [13, 8]},
          "encoding": {
            "x": {"datum": 0.1, "type": "quantitative", "scale": {"type": "log", "domain": [0.0905, 3.165], "nice": false},
              "axis": {"title": "w / fm/c", "values": [0.1,0.2,0.3,0.4,0.5,0.6,0.7,0.8,0.9,1,2,3], "labelExpr": "datum.value === 0.1 ? '10⁻¹' : (datum.value === 1 ? '10⁰' : '')", "encoding": {"ticks": {"y2": {"condition": {"test": "datum.value === 0.1 || datum.value === 1", "value": -20}, "value": -8}}}}},
            "x2": {"datum": 3.165},
            "y": {"datum": 0, "type": "quantitative", "scale": {"domain": [-14, 0.5], "nice": false, "zero": false},
              "axis": {"title": "c₀₁(w;ξ₀)", "titlePadding": 17.4, "values": [0,-1,-2,-3,-4,-5,-6,-7,-8,-9,-10,-11,-12,-13], "labelExpr": "datum.value % 4 === 0 ? format(datum.value, 'd') : ''", "encoding": {"ticks": {"x2": {"condition": {"test": "datum.value % 4 === 0", "value": 20}, "value": 8}}}}}
          }
        },
        {
          "data": {"name": "curves"},
          "transform": [{"filter": "datum.p === 'c01'"}],
          "mark": {"type": "line", "interpolate": "monotone", "clip": true},
          "encoding": {
            "x": {"field": "x", "type": "quantitative", "scale": {"type": "log", "domain": [0.0905, 3.165], "nice": false},
              "axis": {"title": "w / fm/c", "values": [0.1,0.2,0.3,0.4,0.5,0.6,0.7,0.8,0.9,1,2,3], "labelExpr": "datum.value === 0.1 ? '10⁻¹' : (datum.value === 1 ? '10⁰' : '')", "encoding": {"ticks": {"y2": {"condition": {"test": "datum.value === 0.1 || datum.value === 1", "value": -20}, "value": -8}}}}},
            "y": {"field": "y", "type": "quantitative", "scale": {"domain": [-14, 0.5], "nice": false, "zero": false},
              "axis": {"title": "c₀₁(w;ξ₀)", "titlePadding": 17.4, "values": [0,-1,-2,-3,-4,-5,-6,-7,-8,-9,-10,-11,-12,-13], "labelExpr": "datum.value % 4 === 0 ? format(datum.value, 'd') : ''", "encoding": {"ticks": {"x2": {"condition": {"test": "datum.value % 4 === 0", "value": 20}, "value": 8}}}}},
            "color": {"field": "s", "type": "nominal", "scale": {"domain": ["Exact","Renorm","Bare ~ o(1/w)","Bare ~ o(1/w²)","Bare ~ o(1/w³)"], "range": ["#000000","#1E88E5","#0D4A96","#178C17","#E66510"]}, "legend": {"title": "\u2800\u2800"}},
            "strokeDash": {"field": "s", "type": "nominal", "scale": {"domain": ["Exact","Renorm","Bare ~ o(1/w)","Bare ~ o(1/w²)","Bare ~ o(1/w³)"], "range": [[1,0],[8,3],[16,5],[11,7],[15,4,4,4]]}, "legend": {"title": "\u2800\u2800"}},
            "strokeWidth": {"field": "s", "type": "nominal", "scale": {"type": "ordinal", "domain": ["Exact","Renorm","Bare ~ o(1/w)","Bare ~ o(1/w²)","Bare ~ o(1/w³)"], "range": [6,4.3,4.3,4.3,4.3]}, "legend": {"title": "\u2800\u2800"}}
          }
        }
      ]
    },
    {"width": 1, "height": 1, "view": {"stroke": null}, "data": {"values": []}, "mark": "point"},
    {"width": 1, "height": 1, "view": {"stroke": null}, "data": {"values": []}, "mark": "point"},
    {
      "width": 790, "height": 488,
      "layer": [
        {
          "data": {"values": [{}]},
          "mark": {"type": "rule", "color": "#dddddd", "strokeWidth": 4, "strokeDash": [13, 8]},
          "encoding": {
            "x": {"datum": 0.1, "type": "quantitative", "scale": {"type": "log", "domain": [0.0905, 3.165], "nice": false},
              "axis": {"title": "w / fm/c", "values": [0.1,0.2,0.3,0.4,0.5,0.6,0.7,0.8,0.9,1,2,3], "labelExpr": "datum.value === 0.1 ? '10⁻¹' : (datum.value === 1 ? '10⁰' : '')", "encoding": {"ticks": {"y2": {"condition": {"test": "datum.value === 0.1 || datum.value === 1", "value": -20}, "value": -8}}}}},
            "x2": {"datum": 3.165},
            "y": {"datum": 0, "type": "quantitative", "scale": {"domain": [-6, 0.3], "nice": false, "zero": false},
              "axis": {"title": "c₁₀(w;ξ₀)", "titlePadding": 15.4, "values": [0,-0.5,-1,-1.5,-2,-2.5,-3,-3.5,-4,-4.5,-5,-5.5,-6], "labelExpr": "datum.value % 2 === 0 ? format(datum.value, 'd') : ''", "encoding": {"ticks": {"x2": {"condition": {"test": "datum.value % 2 === 0", "value": 20}, "value": 8}}}}}
          }
        },
        {
          "data": {"name": "curves"},
          "transform": [{"filter": "datum.p === 'c10'"}],
          "mark": {"type": "line", "interpolate": "monotone", "clip": true},
          "encoding": {
            "x": {"field": "x", "type": "quantitative", "scale": {"type": "log", "domain": [0.0905, 3.165], "nice": false},
              "axis": {"title": "w / fm/c", "values": [0.1,0.2,0.3,0.4,0.5,0.6,0.7,0.8,0.9,1,2,3], "labelExpr": "datum.value === 0.1 ? '10⁻¹' : (datum.value === 1 ? '10⁰' : '')", "encoding": {"ticks": {"y2": {"condition": {"test": "datum.value === 0.1 || datum.value === 1", "value": -20}, "value": -8}}}}},
            "y": {"field": "y", "type": "quantitative", "scale": {"domain": [-6, 0.3], "nice": false, "zero": false},
              "axis": {"title": "c₁₀(w;ξ₀)", "titlePadding": 15.4, "values": [0,-0.5,-1,-1.5,-2,-2.5,-3,-3.5,-4,-4.5,-5,-5.5,-6], "labelExpr": "datum.value % 2 === 0 ? format(datum.value, 'd') : ''", "encoding": {"ticks": {"x2": {"condition": {"test": "datum.value % 2 === 0", "value": 20}, "value": 8}}}}},
            "color": {"field": "s", "type": "nominal", "scale": {"domain": ["Exact","Renorm","Bare ~ o(1/w)","Bare ~ o(1/w²)","Bare ~ o(1/w³)"], "range": ["#000000","#1E88E5","#0D4A96","#178C17","#E66510"]}, "legend": {"title": "\u2800\u2800"}},
            "strokeDash": {"field": "s", "type": "nominal", "scale": {"domain": ["Exact","Renorm","Bare ~ o(1/w)","Bare ~ o(1/w²)","Bare ~ o(1/w³)"], "range": [[1,0],[8,3],[16,5],[11,7],[15,4,4,4]]}, "legend": {"title": "\u2800\u2800"}},
            "strokeWidth": {"field": "s", "type": "nominal", "scale": {"type": "ordinal", "domain": ["Exact","Renorm","Bare ~ o(1/w)","Bare ~ o(1/w²)","Bare ~ o(1/w³)"], "range": [6,4.3,4.3,4.3,4.3]}, "legend": {"title": "\u2800\u2800"}}
          }
        }
      ]
    },
    {
      "width": 810, "height": 505,
      "layer": [
        {
          "data": {"name": "bands"},
          "transform": [{"filter": "datum.p === 'c11'"}],
          "mark": {"type": "area", "color": "#1E88E5", "opacity": 0.22, "interpolate": "monotone", "clip": true},
          "encoding": {
            "x": {"field": "x", "type": "quantitative", "scale": {"type": "log", "domain": [0.0905, 3.165], "nice": false},
              "axis": {"title": "w / fm/c", "values": [0.1,0.2,0.3,0.4,0.5,0.6,0.7,0.8,0.9,1,2,3], "labelExpr": "datum.value === 0.1 ? '10⁻¹' : (datum.value === 1 ? '10⁰' : '')", "encoding": {"ticks": {"y2": {"condition": {"test": "datum.value === 0.1 || datum.value === 1", "value": -20}, "value": -8}}}}},
            "y": {"field": "lo", "type": "quantitative", "scale": {"domain": [-0.4, 4], "nice": false, "zero": false},
              "axis": {"title": "c₁₁(w;ξ₀)", "titlePadding": 29.7, "values": [-0.25,0,0.25,0.5,0.75,1,1.25,1.5,1.75,2,2.25,2.5,2.75,3,3.25,3.5,3.75,4], "labelExpr": "datum.value % 1 === 0 ? format(datum.value, 'd') : ''", "encoding": {"ticks": {"x2": {"condition": {"test": "datum.value % 1 === 0", "value": 20}, "value": 8}}}}},
            "y2": {"field": "hi"}
          }
        },
        {
          "data": {"values": [{}]},
          "mark": {"type": "rule", "color": "#dddddd", "strokeWidth": 4, "strokeDash": [13, 8]},
          "encoding": {
            "x": {"datum": 0.1, "type": "quantitative", "scale": {"type": "log", "domain": [0.0905, 3.165], "nice": false},
              "axis": {"title": "w / fm/c", "values": [0.1,0.2,0.3,0.4,0.5,0.6,0.7,0.8,0.9,1,2,3], "labelExpr": "datum.value === 0.1 ? '10⁻¹' : (datum.value === 1 ? '10⁰' : '')", "encoding": {"ticks": {"y2": {"condition": {"test": "datum.value === 0.1 || datum.value === 1", "value": -20}, "value": -8}}}}},
            "x2": {"datum": 3.165},
            "y": {"datum": 0, "type": "quantitative", "scale": {"domain": [-0.4, 4], "nice": false, "zero": false},
              "axis": {"title": "c₁₁(w;ξ₀)", "titlePadding": 29.7, "values": [-0.25,0,0.25,0.5,0.75,1,1.25,1.5,1.75,2,2.25,2.5,2.75,3,3.25,3.5,3.75,4], "labelExpr": "datum.value % 1 === 0 ? format(datum.value, 'd') : ''", "encoding": {"ticks": {"x2": {"condition": {"test": "datum.value % 1 === 0", "value": 20}, "value": 8}}}}}
          }
        },
        {
          "data": {"name": "curves"},
          "transform": [{"filter": "datum.p === 'c11'"}],
          "mark": {"type": "line", "interpolate": "monotone", "clip": true},
          "encoding": {
            "x": {"field": "x", "type": "quantitative", "scale": {"type": "log", "domain": [0.0905, 3.165], "nice": false},
              "axis": {"title": "w / fm/c", "values": [0.1,0.2,0.3,0.4,0.5,0.6,0.7,0.8,0.9,1,2,3], "labelExpr": "datum.value === 0.1 ? '10⁻¹' : (datum.value === 1 ? '10⁰' : '')", "encoding": {"ticks": {"y2": {"condition": {"test": "datum.value === 0.1 || datum.value === 1", "value": -20}, "value": -8}}}}},
            "y": {"field": "y", "type": "quantitative", "scale": {"domain": [-0.4, 4], "nice": false, "zero": false},
              "axis": {"title": "c₁₁(w;ξ₀)", "titlePadding": 29.7, "values": [-0.25,0,0.25,0.5,0.75,1,1.25,1.5,1.75,2,2.25,2.5,2.75,3,3.25,3.5,3.75,4], "labelExpr": "datum.value % 1 === 0 ? format(datum.value, 'd') : ''", "encoding": {"ticks": {"x2": {"condition": {"test": "datum.value % 1 === 0", "value": 20}, "value": 8}}}}},
            "color": {"field": "s", "type": "nominal", "scale": {"domain": ["Exact","Renorm","Bare ~ o(1/w)","Bare ~ o(1/w²)","Bare ~ o(1/w³)"], "range": ["#000000","#1E88E5","#0D4A96","#178C17","#E66510"]}, "legend": {"title": "\u2800\u2800"}},
            "strokeDash": {"field": "s", "type": "nominal", "scale": {"domain": ["Exact","Renorm","Bare ~ o(1/w)","Bare ~ o(1/w²)","Bare ~ o(1/w³)"], "range": [[1,0],[8,3],[16,5],[11,7],[15,4,4,4]]}, "legend": {"title": "\u2800\u2800"}},
            "strokeWidth": {"field": "s", "type": "nominal", "scale": {"type": "ordinal", "domain": ["Exact","Renorm","Bare ~ o(1/w)","Bare ~ o(1/w²)","Bare ~ o(1/w³)"], "range": [6,4.3,4.3,4.3,4.3]}, "legend": {"title": "\u2800\u2800"}}
          }
        }
      ]
    },
    {"width": 1, "height": 1, "view": {"stroke": null}, "data": {"values": []}, "mark": "point"},
    {
      "width": 786, "height": 486,
      "layer": [
        {
          "data": {"name": "bands"},
          "transform": [{"filter": "datum.p === 'c20'"}],
          "mark": {"type": "area", "color": "#1E88E5", "opacity": 0.22, "interpolate": "monotone", "clip": true},
          "encoding": {
            "x": {"field": "x", "type": "quantitative", "scale": {"type": "log", "domain": [0.0905, 3.165], "nice": false},
              "axis": {"title": "w / fm/c", "values": [0.1,0.2,0.3,0.4,0.5,0.6,0.7,0.8,0.9,1,2,3], "labelExpr": "datum.value === 0.1 ? '10⁻¹' : (datum.value === 1 ? '10⁰' : '')", "encoding": {"ticks": {"y2": {"condition": {"test": "datum.value === 0.1 || datum.value === 1", "value": -20}, "value": -8}}}}},
            "y": {"field": "lo", "type": "quantitative", "scale": {"domain": [-0.055, 2], "nice": false, "zero": false},
              "axis": {"title": "c₂₀(w;ξ₀)", "titlePadding": 13.2, "values": [0,0.125,0.25,0.375,0.5,0.625,0.75,0.875,1,1.125,1.25,1.375,1.5,1.625,1.75,1.875,2], "labelExpr": "datum.value % 0.5 === 0 ? format(datum.value, '.1f') : ''", "encoding": {"ticks": {"x2": {"condition": {"test": "datum.value % 0.5 === 0", "value": 20}, "value": 8}}}}},
            "y2": {"field": "hi"}
          }
        },
        {
          "data": {"values": [{}]},
          "mark": {"type": "rule", "color": "#dddddd", "strokeWidth": 4, "strokeDash": [13, 8]},
          "encoding": {
            "x": {"datum": 0.1, "type": "quantitative", "scale": {"type": "log", "domain": [0.0905, 3.165], "nice": false},
              "axis": {"title": "w / fm/c", "values": [0.1,0.2,0.3,0.4,0.5,0.6,0.7,0.8,0.9,1,2,3], "labelExpr": "datum.value === 0.1 ? '10⁻¹' : (datum.value === 1 ? '10⁰' : '')", "encoding": {"ticks": {"y2": {"condition": {"test": "datum.value === 0.1 || datum.value === 1", "value": -20}, "value": -8}}}}},
            "x2": {"datum": 3.165},
            "y": {"datum": 0, "type": "quantitative", "scale": {"domain": [-0.055, 2], "nice": false, "zero": false},
              "axis": {"title": "c₂₀(w;ξ₀)", "titlePadding": 13.2, "values": [0,0.125,0.25,0.375,0.5,0.625,0.75,0.875,1,1.125,1.25,1.375,1.5,1.625,1.75,1.875,2], "labelExpr": "datum.value % 0.5 === 0 ? format(datum.value, '.1f') : ''", "encoding": {"ticks": {"x2": {"condition": {"test": "datum.value % 0.5 === 0", "value": 20}, "value": 8}}}}}
          }
        },
        {
          "data": {"name": "curves"},
          "transform": [{"filter": "datum.p === 'c20'"}],
          "mark": {"type": "line", "interpolate": "monotone", "clip": true},
          "encoding": {
            "x": {"field": "x", "type": "quantitative", "scale": {"type": "log", "domain": [0.0905, 3.165], "nice": false},
              "axis": {"title": "w / fm/c", "values": [0.1,0.2,0.3,0.4,0.5,0.6,0.7,0.8,0.9,1,2,3], "labelExpr": "datum.value === 0.1 ? '10⁻¹' : (datum.value === 1 ? '10⁰' : '')", "encoding": {"ticks": {"y2": {"condition": {"test": "datum.value === 0.1 || datum.value === 1", "value": -20}, "value": -8}}}}},
            "y": {"field": "y", "type": "quantitative", "scale": {"domain": [-0.055, 2], "nice": false, "zero": false},
              "axis": {"title": "c₂₀(w;ξ₀)", "titlePadding": 13.2, "values": [0,0.125,0.25,0.375,0.5,0.625,0.75,0.875,1,1.125,1.25,1.375,1.5,1.625,1.75,1.875,2], "labelExpr": "datum.value % 0.5 === 0 ? format(datum.value, '.1f') : ''", "encoding": {"ticks": {"x2": {"condition": {"test": "datum.value % 0.5 === 0", "value": 20}, "value": 8}}}}},
            "color": {"field": "s", "type": "nominal", "scale": {"domain": ["Exact","Renorm","Bare ~ o(1/w)","Bare ~ o(1/w²)","Bare ~ o(1/w³)"], "range": ["#000000","#1E88E5","#0D4A96","#178C17","#E66510"]}, "legend": {"title": "\u2800\u2800"}},
            "strokeDash": {"field": "s", "type": "nominal", "scale": {"domain": ["Exact","Renorm","Bare ~ o(1/w)","Bare ~ o(1/w²)","Bare ~ o(1/w³)"], "range": [[1,0],[8,3],[16,5],[11,7],[15,4,4,4]]}, "legend": {"title": "\u2800\u2800"}},
            "strokeWidth": {"field": "s", "type": "nominal", "scale": {"type": "ordinal", "domain": ["Exact","Renorm","Bare ~ o(1/w)","Bare ~ o(1/w²)","Bare ~ o(1/w³)"], "range": [6,4.3,4.3,4.3,4.3]}, "legend": {"title": "\u2800\u2800"}}
          }
        }
      ]
    },
    {
      "width": 771, "height": 479,
      "layer": [
        {
          "data": {"name": "bands"},
          "transform": [{"filter": "datum.p === 'c21'"}],
          "mark": {"type": "area", "color": "#1E88E5", "opacity": 0.22, "interpolate": "monotone", "clip": true},
          "encoding": {
            "x": {"field": "x", "type": "quantitative", "scale": {"type": "log", "domain": [0.0905, 3.165], "nice": false},
              "axis": {"title": "w / fm/c", "values": [0.1,0.2,0.3,0.4,0.5,0.6,0.7,0.8,0.9,1,2,3], "labelExpr": "datum.value === 0.1 ? '10⁻¹' : (datum.value === 1 ? '10⁰' : '')", "encoding": {"ticks": {"y2": {"condition": {"test": "datum.value === 0.1 || datum.value === 1", "value": -20}, "value": -8}}}}},
            "y": {"field": "lo", "type": "quantitative", "scale": {"domain": [-12, 1.5], "nice": false, "zero": false},
              "axis": {"title": "c₂₁(w;ξ₀)", "titlePadding": 26.6, "values": [0.75,0,-0.75,-1.5,-2.25,-3,-3.75,-4.5,-5.25,-6,-6.75,-7.5,-8.25,-9,-9.75,-10.5,-11.25,-12], "labelExpr": "datum.value % 3 === 0 ? format(datum.value, 'd') : ''", "encoding": {"ticks": {"x2": {"condition": {"test": "datum.value % 3 === 0", "value": 20}, "value": 8}}}}},
            "y2": {"field": "hi"}
          }
        },
        {
          "data": {"values": [{}]},
          "mark": {"type": "rule", "color": "#dddddd", "strokeWidth": 4, "strokeDash": [13, 8]},
          "encoding": {
            "x": {"datum": 0.1, "type": "quantitative", "scale": {"type": "log", "domain": [0.0905, 3.165], "nice": false},
              "axis": {"title": "w / fm/c", "values": [0.1,0.2,0.3,0.4,0.5,0.6,0.7,0.8,0.9,1,2,3], "labelExpr": "datum.value === 0.1 ? '10⁻¹' : (datum.value === 1 ? '10⁰' : '')", "encoding": {"ticks": {"y2": {"condition": {"test": "datum.value === 0.1 || datum.value === 1", "value": -20}, "value": -8}}}}},
            "x2": {"datum": 3.165},
            "y": {"datum": 0, "type": "quantitative", "scale": {"domain": [-12, 1.5], "nice": false, "zero": false},
              "axis": {"title": "c₂₁(w;ξ₀)", "titlePadding": 26.6, "values": [0.75,0,-0.75,-1.5,-2.25,-3,-3.75,-4.5,-5.25,-6,-6.75,-7.5,-8.25,-9,-9.75,-10.5,-11.25,-12], "labelExpr": "datum.value % 3 === 0 ? format(datum.value, 'd') : ''", "encoding": {"ticks": {"x2": {"condition": {"test": "datum.value % 3 === 0", "value": 20}, "value": 8}}}}}
          }
        },
        {
          "data": {"name": "curves"},
          "transform": [{"filter": "datum.p === 'c21'"}],
          "mark": {"type": "line", "interpolate": "monotone", "clip": true},
          "encoding": {
            "x": {"field": "x", "type": "quantitative", "scale": {"type": "log", "domain": [0.0905, 3.165], "nice": false},
              "axis": {"title": "w / fm/c", "values": [0.1,0.2,0.3,0.4,0.5,0.6,0.7,0.8,0.9,1,2,3], "labelExpr": "datum.value === 0.1 ? '10⁻¹' : (datum.value === 1 ? '10⁰' : '')", "encoding": {"ticks": {"y2": {"condition": {"test": "datum.value === 0.1 || datum.value === 1", "value": -20}, "value": -8}}}}},
            "y": {"field": "y", "type": "quantitative", "scale": {"domain": [-12, 1.5], "nice": false, "zero": false},
              "axis": {"title": "c₂₁(w;ξ₀)", "titlePadding": 26.6, "values": [0.75,0,-0.75,-1.5,-2.25,-3,-3.75,-4.5,-5.25,-6,-6.75,-7.5,-8.25,-9,-9.75,-10.5,-11.25,-12], "labelExpr": "datum.value % 3 === 0 ? format(datum.value, 'd') : ''", "encoding": {"ticks": {"x2": {"condition": {"test": "datum.value % 3 === 0", "value": 20}, "value": 8}}}}},
            "color": {"field": "s", "type": "nominal", "scale": {"domain": ["Exact","Renorm","Bare ~ o(1/w)","Bare ~ o(1/w²)","Bare ~ o(1/w³)"], "range": ["#000000","#1E88E5","#0D4A96","#178C17","#E66510"]}, "legend": {"title": "\u2800\u2800"}},
            "strokeDash": {"field": "s", "type": "nominal", "scale": {"domain": ["Exact","Renorm","Bare ~ o(1/w)","Bare ~ o(1/w²)","Bare ~ o(1/w³)"], "range": [[1,0],[8,3],[16,5],[11,7],[15,4,4,4]]}, "legend": {"title": "\u2800\u2800"}},
            "strokeWidth": {"field": "s", "type": "nominal", "scale": {"type": "ordinal", "domain": ["Exact","Renorm","Bare ~ o(1/w)","Bare ~ o(1/w²)","Bare ~ o(1/w³)"], "range": [6,4.3,4.3,4.3,4.3]}, "legend": {"title": "\u2800\u2800"}}
          }
        }
      ]
    }
  ]
}
